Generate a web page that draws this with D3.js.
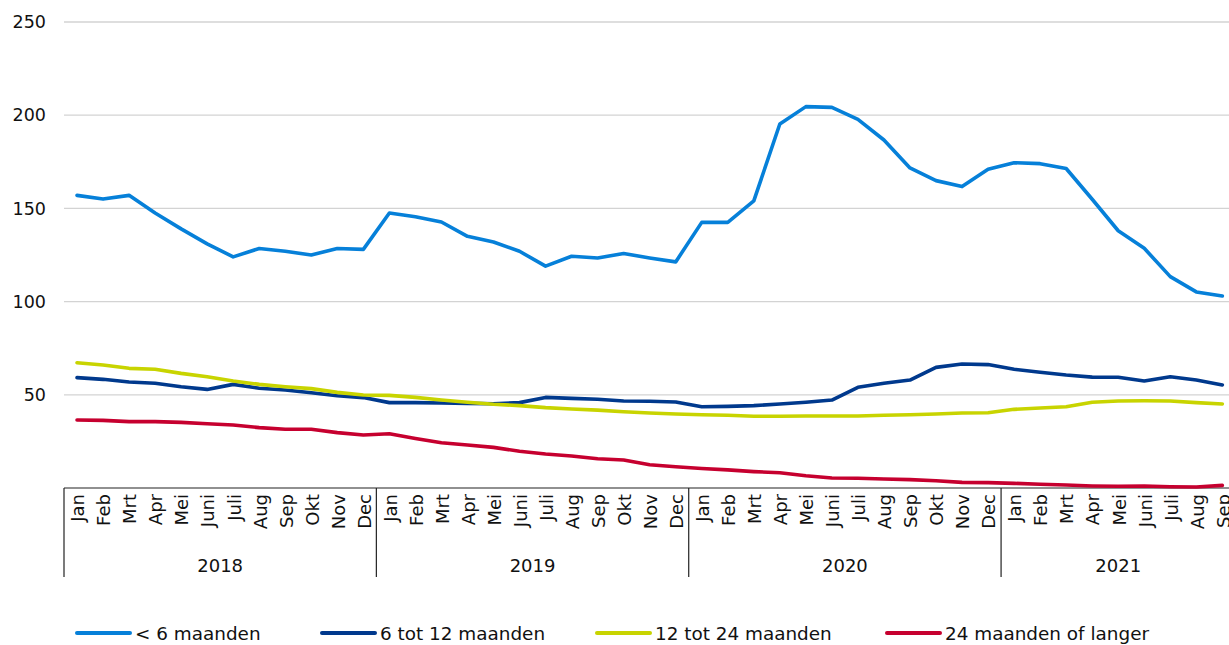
<!DOCTYPE html>
<html>
<head>
<meta charset="utf-8">
<script src="https://cdn.jsdelivr.net/npm/d3@7"></script>
<style>
  html, body { margin: 0; padding: 0; background: #fff; }
  svg { display: block; font-family: "DejaVu Sans", Verdana, sans-serif; }
</style>
</head>
<body>
<svg id="chart" width="1229" height="645"></svg>
<script>
// ---- data ----
const years = ["2018", "2019", "2020", "2021"];
const monthNames = ["Jan","Feb","Mrt","Apr","Mei","Juni","Juli","Aug","Sep","Okt","Nov","Dec"];
const monthsPerYear = [12, 12, 12, 9];
const yTicks = [50, 100, 150, 200, 250];
const seriesNames = ["< 6 maanden", "6 tot 12 maanden", "12 tot 24 maanden", "24 maanden of langer"];
const seriesColors = ["#0680d9", "#00398d", "#c8d400", "#c6002f"];

const lt6 = [
  157, 155, 157, 147.5, 139, 131, 124, 128.5, 127, 125, 128.5, 128,
  147.5, 145.5, 142.7, 135, 132, 127, 119, 124.3, 123.4, 125.8, 123.4, 121.3,
  142.5, 142.5, 154, 195.3, 204.6, 204.2, 197.8, 186.7, 171.7, 164.9, 161.7, 171,
  174.5, 174, 171.4, 154.9, 138, 128.6, 113.4, 105.2, 103
];
const m6to12 = [
  59.2, 58.3, 56.9, 56.2, 54.3, 52.9, 55.6, 53.5, 52.6, 51.1, 49.5, 48.5,
  45.8, 45.8, 45.6, 45.4, 45.2, 45.8, 48.6, 48.1, 47.6, 46.7, 46.5, 46.1,
  43.6, 43.8, 44.2, 45.1, 46, 47.2, 54, 56.2, 57.9, 64.7, 66.5, 66.2,
  63.7, 62.1, 60.6, 59.5, 59.4, 57.4, 59.7, 57.9, 55.3
];
const m12to24 = [
  67.2, 66, 64.2, 63.7, 61.5, 59.7, 57.4, 55.6, 54.3, 53.3, 51.3, 49.9,
  49.7, 48.6, 47.2, 46, 44.9, 44.2, 43.1, 42.4, 41.8, 40.9, 40.2, 39.7,
  39.3, 39, 38.5, 38.5, 38.6, 38.6, 38.6, 39, 39.3, 39.7, 40.2, 40.4,
  42.2, 42.9, 43.6, 46, 46.7, 46.8, 46.7, 45.8, 45.1
];
const m24plus = [
  36.5, 36.3, 35.6, 35.6, 35.2, 34.5, 33.8, 32.4, 31.5, 31.5, 29.7, 28.4,
  29.1, 26.6, 24.3, 23.1, 21.8, 19.7, 18.2, 17.2, 15.7, 15, 12.5, 11.4,
  10.5, 9.7, 8.8, 8.2, 6.6, 5.4, 5.2, 4.8, 4.5, 3.9, 3, 2.9,
  2.5, 2, 1.6, 1.1, 0.9, 1.1, 0.7, 0.5, 1.4
];
const seriesValues = [lt6, m6to12, m12to24, m24plus];

(function () {
// ---- build month list ----
const months = [];
years.forEach((yr, yi) => {
  for (let m = 0; m < monthsPerYear[yi]; m++) months.push({ year: yr, label: monthNames[m], idx: months.length });
});

// ---- layout ----
const svg = d3.select("#chart");
const plotLeft = 64, plotTop = 22, plotBottom = 488, plotRight = 1229;
const step = 26.03;
const x = d3.scaleBand().domain(months.map(d => d.idx)).range([plotLeft, plotLeft + step * months.length]).paddingInner(0).paddingOuter(0);
const y = d3.scaleLinear().domain([0, 250]).range([plotBottom, plotTop]);

// gridlines
const grid = svg.append("g");
yTicks.forEach(t => {
  grid.append("line")
    .attr("x1", plotLeft).attr("x2", plotRight)
    .attr("y1", y(t)).attr("y2", y(t))
    .attr("stroke", "#d3d3d3").attr("stroke-width", 1.3);
});

// y labels
const yAxis = d3.axisLeft(y).tickValues(yTicks).tickSize(0).tickPadding(0);
const ya = svg.append("g").attr("transform", `translate(${plotLeft - 18},0)`).call(yAxis);
ya.select(".domain").remove();
ya.selectAll("text").attr("font-size", 17.5).attr("fill", "#111").attr("font-family", "DejaVu Sans, Verdana, sans-serif");

// x axis baseline
svg.append("line").attr("x1", plotLeft).attr("x2", plotRight).attr("y1", plotBottom).attr("y2", plotBottom)
  .attr("stroke", "#222").attr("stroke-width", 1.2);

// year separators and labels
let start = 0;
years.forEach((yr, yi) => {
  const x0 = x(start);
  svg.append("line").attr("x1", x0).attr("x2", x0).attr("y1", plotBottom).attr("y2", 577)
    .attr("stroke", "#222").attr("stroke-width", 1.2);
  const n = monthsPerYear[yi];
  const cx = x0 + step * n / 2;
  svg.append("text").attr("x", cx).attr("y", 571.5).attr("text-anchor", "middle")
    .attr("font-size", 18).attr("fill", "#111").text(yr);
  start += n;
});

// month labels
svg.append("g").selectAll("text").data(months).join("text")
  .attr("transform", d => `translate(${x(d.idx) + x.bandwidth() / 2 + 1},494) rotate(-90)`)
  .attr("text-anchor", "end").attr("dy", "0.35em")
  .attr("font-size", 18).attr("fill", "#111")
  .text(d => d.label);

// lines
const line = d3.line().x((d, i) => x(i) + x.bandwidth() / 2).y(d => y(d));
seriesValues.forEach((vals, si) => {
  svg.append("path").datum(vals)
    .attr("fill", "none").attr("stroke", seriesColors[si]).attr("stroke-width", 3.6)
    .attr("stroke-linejoin", "round").attr("stroke-linecap", "round")
    .attr("d", line);
});

// legend
const legendX = [77, 322, 597, 887];
const lg = svg.append("g");
seriesNames.forEach((name, i) => {
  lg.append("line").attr("x1", legendX[i]).attr("x2", legendX[i] + 53)
    .attr("y1", 633).attr("y2", 633).attr("stroke", seriesColors[i]).attr("stroke-width", 4)
    .attr("stroke-linecap", "round");
  lg.append("text").attr("x", legendX[i] + 58).attr("y", 639.5)
    .attr("font-size", 18.4).attr("fill", "#111").text(name);
});
})();
</script>
</body>
</html>
